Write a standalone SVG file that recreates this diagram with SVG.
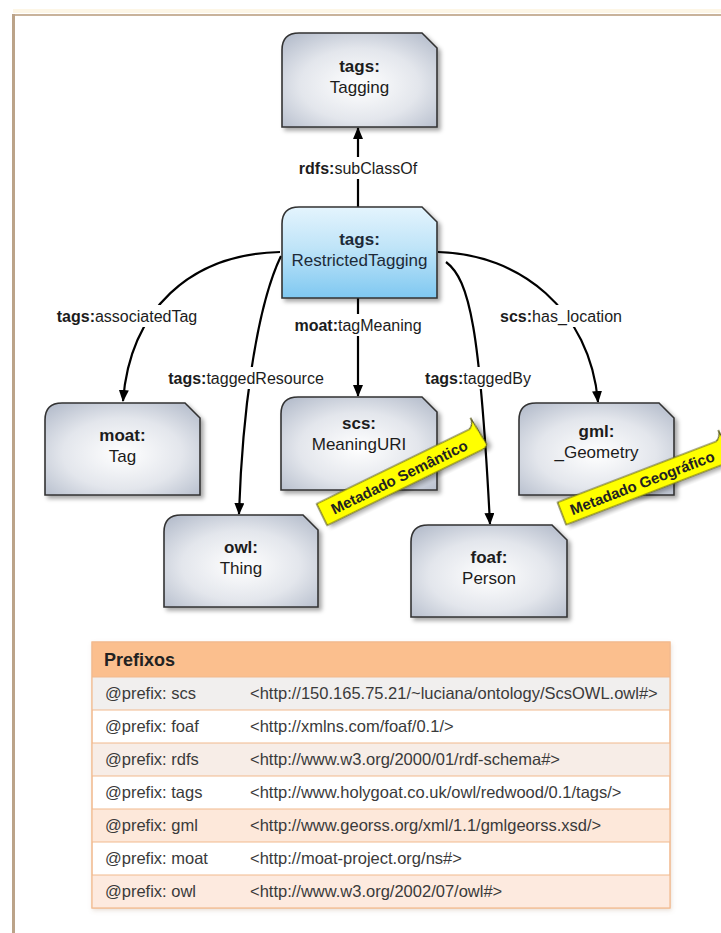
<svg xmlns="http://www.w3.org/2000/svg" width="721" height="933" viewBox="0 0 721 933">
  <defs>
    <radialGradient id="grayFill" cx="50%" cy="55%" r="70%">
      <stop offset="0" stop-color="#ffffff"/>
      <stop offset="0.55" stop-color="#e3e6ec"/>
      <stop offset="1" stop-color="#b4bccb"/>
    </radialGradient>
    <linearGradient id="blueFill" x1="0" y1="0" x2="0" y2="1">
      <stop offset="0" stop-color="#e4f4fd"/>
      <stop offset="0.45" stop-color="#bfe4f8"/>
      <stop offset="1" stop-color="#7fc8f1"/>
    </linearGradient>
    <filter id="shadow" x="-10%" y="-10%" width="130%" height="130%">
      <feDropShadow dx="3" dy="3" stdDeviation="2" flood-color="#000" flood-opacity="0.35"/>
    </filter>
    <filter id="softShadow" x="-5%" y="-5%" width="115%" height="115%">
      <feDropShadow dx="1" dy="2" stdDeviation="2" flood-color="#a08060" flood-opacity="0.25"/>
    </filter>
    <marker id="arrow" viewBox="0 0 12 10" refX="11" refY="5" markerWidth="12" markerHeight="10" markerUnits="userSpaceOnUse" orient="auto">
      <path d="M0,0 L12,5 L0,10 Z" fill="#000"/>
    </marker>
  </defs>
  <style>
    .node { stroke: #333; stroke-width: 1.6; filter: url(#shadow); }
    .gray { fill: url(#grayFill); }
    .blue { fill: url(#blueFill); }
    .ntext { font-family: "Liberation Sans", Arial, sans-serif; font-size: 17px; fill: #1c1c1c; text-anchor: middle; }
    .btext { fill: #1d2a38; }
    .b { font-weight: bold; }
    .edge { fill: none; stroke: #000; stroke-width: 2.2; marker-end: url(#arrow); }
    .elabel { font-family: "Liberation Sans", Arial, sans-serif; font-size: 16px; fill: #1c1c1c; text-anchor: middle; }
    .lbg { fill: #fff; }
    .sticky { fill: #ffff00; stroke: #5a5a20; stroke-width: 1.2; filter: url(#shadow); }
    .stext { font-family: "Liberation Sans", Arial, sans-serif; font-size: 15px; font-weight: bold; fill: #222; text-anchor: middle; }
    .tcell { font-family: "Liberation Sans", Arial, sans-serif; font-size: 16.5px; fill: #3a3a3a; }
    .thead { font-family: "Liberation Sans", Arial, sans-serif; font-size: 18px; font-weight: bold; fill: #222; }
    .rowline { stroke: #f2b98e; stroke-width: 1.2; }
  </style>

  <!-- page frame -->
  <g id="frame">
    <line x1="13" y1="11" x2="721" y2="11" stroke="#fdf6e6" stroke-width="4"/>
    <line x1="13" y1="15" x2="721" y2="15" stroke="#c9b39b" stroke-width="2"/>
    <line x1="13.5" y1="14" x2="13.5" y2="933" stroke="#bba389" stroke-width="3"/>
  </g>

  <!-- connectors -->
  <g id="connectors">
    <path class="edge" d="M358,207 L358,128"/>
    <path class="edge" d="M280,252 C190,254 130,310 123,401"/>
    <path class="edge" d="M281,256 C255,310 242,420 239,514"/>
    <path class="edge" d="M358,298 L358,396"/>
    <path class="edge" d="M446,262 C470,280 480,330 490,524"/>
    <path class="edge" d="M438,252 C520,254 590,310 598,402"/>
  </g>

  <!-- connector labels -->
  <g id="edge-labels">
    <rect class="lbg" x="295" y="157" width="126" height="22"/>
    <text class="elabel" x="358" y="174"><tspan class="b">rdfs:</tspan>subClassOf</text>
    <rect class="lbg" x="53" y="305" width="148" height="22"/>
    <text class="elabel" x="127" y="322"><tspan class="b">tags:</tspan>associatedTag</text>
    <rect class="lbg" x="291" y="314" width="134" height="22"/>
    <text class="elabel" x="358" y="331"><tspan class="b">moat:</tspan>tagMeaning</text>
    <rect class="lbg" x="495" y="305" width="132" height="22"/>
    <text class="elabel" x="561" y="322"><tspan class="b">scs:</tspan>has_location</text>
    <rect class="lbg" x="166" y="367" width="160" height="22"/>
    <text class="elabel" x="246" y="384"><tspan class="b">tags:</tspan>taggedResource</text>
    <rect class="lbg" x="421" y="367" width="114" height="22"/>
    <text class="elabel" x="478" y="384"><tspan class="b">tags:</tspan>taggedBy</text>
  </g>

  <!-- nodes: rounded top-left corner, chamfered top-right corner -->
  <g id="node-tagging">
    <path class="node gray" d="M282,127 L282,50 Q282,33 299,33 L422,33 L437,48 L437,127 Z"/>
    <text class="ntext" x="359.5" y="72"><tspan class="b">tags:</tspan><tspan x="359.5" y="93">Tagging</tspan></text>
  </g>
  <g id="node-restricted-tagging">
    <path class="node blue" d="M282,298 L282,224 Q282,207 299,207 L422,207 L437,222 L437,298 Z"/>
    <text class="ntext btext" x="359.5" y="245"><tspan class="b">tags:</tspan><tspan x="359.5" y="266">RestrictedTagging</tspan></text>
  </g>
  <g id="node-moat-tag">
    <path class="node gray" d="M45,495 L45,420 Q45,403 62,403 L185,403 L200,418 L200,495 Z"/>
    <text class="ntext" x="122.5" y="441"><tspan class="b">moat:</tspan><tspan x="122.5" y="462">Tag</tspan></text>
  </g>
  <g id="node-meaning-uri">
    <path class="node gray" d="M281,490 L281,414 Q281,397 298,397 L422,397 L437,412 L437,490 Z"/>
    <text class="ntext" x="359" y="429"><tspan class="b">scs:</tspan><tspan x="359" y="450">MeaningURI</tspan></text>
  </g>
  <g id="node-geometry">
    <path class="node gray" d="M519,495 L519,420 Q519,403 536,403 L659,403 L674,418 L674,495 Z"/>
    <text class="ntext" x="596.5" y="437"><tspan class="b">gml:</tspan><tspan x="596.5" y="458">_Geometry</tspan></text>
  </g>
  <g id="node-owl-thing">
    <path class="node gray" d="M164,607 L164,532 Q164,515 181,515 L303,515 L318,530 L318,607 Z"/>
    <text class="ntext" x="241" y="553"><tspan class="b">owl:</tspan><tspan x="241" y="574">Thing</tspan></text>
  </g>
  <g id="node-foaf-person">
    <path class="node gray" d="M411,617 L411,542 Q411,525 428,525 L552,525 L567,540 L567,617 Z"/>
    <text class="ntext" x="489" y="563"><tspan class="b">foaf:</tspan><tspan x="489" y="584">Person</tspan></text>
  </g>

  <!-- sticky notes -->
  <g id="note-semantico" transform="translate(401,476) rotate(-26)">
    <path class="sticky" d="M-88,-12 L82,-12 Q88,-15 88,-22 L91,9 Q89,12 84,12 L-88,12 Z"/>
    <text class="stext" x="-2" y="5.5">Metadado Semântico</text>
  </g>
  <g id="note-geografico" transform="translate(644,482) rotate(-21)">
    <path class="sticky" d="M-88,-12 L82,-12 Q88,-15 88,-22 L91,9 Q89,12 84,12 L-88,12 Z"/>
    <text class="stext" x="-2" y="5.5">Metadado Geográfico</text>
  </g>

  <!-- prefix table -->
  <g id="prefix-table">
    <rect x="92" y="642" width="578" height="266" fill="#fff" stroke="#f2c4a0" stroke-width="1" filter="url(#softShadow)"/>
    <rect x="92" y="642" width="578" height="35" fill="#fbbf8e"/>
    <rect x="92" y="677" width="578" height="33" fill="#f1efee"/>
    <rect x="92" y="743" width="578" height="33" fill="#f7ede7"/>
    <rect x="92" y="809" width="578" height="33" fill="#fde8da"/>
    <rect x="92" y="875" width="578" height="33" fill="#fdeadf"/>
    <g class="rowline">
      <line x1="92" y1="677" x2="670" y2="677"/>
      <line x1="92" y1="710" x2="670" y2="710"/>
      <line x1="92" y1="743" x2="670" y2="743"/>
      <line x1="92" y1="776" x2="670" y2="776"/>
      <line x1="92" y1="809" x2="670" y2="809"/>
      <line x1="92" y1="842" x2="670" y2="842"/>
      <line x1="92" y1="875" x2="670" y2="875"/>
    </g>
    <rect x="92" y="642" width="578" height="266" fill="none" stroke="#f2b98e" stroke-width="1.2"/>
    <text class="thead" x="104" y="666">Prefixos</text>
    <text class="tcell" x="105" y="699">@prefix: scs</text>
    <text class="tcell" x="250" y="699">&lt;http://150.165.75.21/~luciana/ontology/ScsOWL.owl#&gt;</text>
    <text class="tcell" x="105" y="732">@prefix: foaf</text>
    <text class="tcell" x="250" y="732">&lt;http://xmlns.com/foaf/0.1/&gt;</text>
    <text class="tcell" x="105" y="765">@prefix: rdfs</text>
    <text class="tcell" x="250" y="765">&lt;http://www.w3.org/2000/01/rdf-schema#&gt;</text>
    <text class="tcell" x="105" y="798">@prefix: tags</text>
    <text class="tcell" x="250" y="798">&lt;http://www.holygoat.co.uk/owl/redwood/0.1/tags/&gt;</text>
    <text class="tcell" x="105" y="831">@prefix: gml</text>
    <text class="tcell" x="250" y="831">&lt;http://www.georss.org/xml/1.1/gmlgeorss.xsd/&gt;</text>
    <text class="tcell" x="105" y="864">@prefix: moat</text>
    <text class="tcell" x="250" y="864">&lt;http://moat-project.org/ns#&gt;</text>
    <text class="tcell" x="105" y="897">@prefix: owl</text>
    <text class="tcell" x="250" y="897">&lt;http://www.w3.org/2002/07/owl#&gt;</text>
  </g>
</svg>
